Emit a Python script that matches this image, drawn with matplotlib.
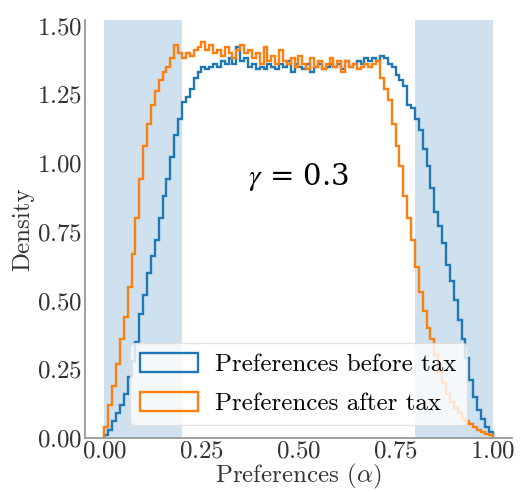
import numpy as np
import matplotlib
matplotlib.use("Agg")
import matplotlib.pyplot as plt

plt.rcParams['font.family'] = 'serif'
plt.rcParams['font.serif'] = ['cmr10']
plt.rcParams['mathtext.fontset'] = 'cm'
plt.rcParams['axes.formatter.use_mathtext'] = True

# histogram bin edges (100 bins on [0, 1])
bin_edges = np.linspace(0.0, 1.0, 101)

before_tax = [
    0.01, 0.03, 0.06, 0.09, 0.12, 0.16, 0.22, 0.28, 0.35, 0.45,
    0.52, 0.60, 0.66, 0.72, 0.80, 0.88, 0.94, 1.02, 1.10, 1.16,
    1.22, 1.24, 1.27, 1.31, 1.33, 1.35, 1.34, 1.35, 1.36, 1.35,
    1.37, 1.36, 1.38, 1.36, 1.42, 1.37, 1.38, 1.35, 1.36, 1.34,
    1.35, 1.34, 1.36, 1.35, 1.34, 1.36, 1.35, 1.37, 1.33, 1.36,
    1.35, 1.34, 1.36, 1.33, 1.35, 1.36, 1.34, 1.35, 1.36, 1.35,
    1.36, 1.34, 1.37, 1.35, 1.36, 1.37, 1.36, 1.38, 1.37, 1.38,
    1.37, 1.39, 1.38, 1.36, 1.35, 1.32, 1.30, 1.28, 1.21, 1.20,
    1.16, 1.12, 1.05, 0.99, 0.91, 0.82, 0.77, 0.71, 0.63, 0.57,
    0.50, 0.43, 0.36, 0.29, 0.21, 0.15, 0.10, 0.07, 0.04, 0.02,
]

after_tax = [
    0.04, 0.12, 0.19, 0.27, 0.36, 0.44, 0.55, 0.67, 0.80, 0.94,
    1.06, 1.14, 1.21, 1.26, 1.30, 1.33, 1.35, 1.38, 1.43, 1.40,
    1.38, 1.40, 1.39, 1.41, 1.42, 1.44, 1.41, 1.43, 1.40, 1.41,
    1.39, 1.42, 1.40, 1.38, 1.41, 1.43, 1.40, 1.41, 1.38, 1.40,
    1.36, 1.42, 1.37, 1.39, 1.36, 1.41, 1.37, 1.36, 1.38, 1.35,
    1.39, 1.36, 1.34, 1.38, 1.35, 1.37, 1.34, 1.36, 1.38, 1.35,
    1.37, 1.33, 1.37, 1.35, 1.36, 1.34, 1.35, 1.36, 1.35, 1.36,
    1.37, 1.31, 1.27, 1.23, 1.14, 1.06, 0.99, 0.88, 0.80, 0.72,
    0.62, 0.53, 0.46, 0.40, 0.36, 0.30, 0.24, 0.20, 0.16, 0.13,
    0.11, 0.09, 0.07, 0.06, 0.05, 0.04, 0.03, 0.02, 0.015, 0.01,
]

labels = ["Preferences before tax", "Preferences after tax"]
colors = ["#1f77b4", "#ff7f0e"]
shaded = [(0.0, 0.2), (0.8, 1.0)]

fig = plt.figure(figsize=(5.21, 4.92), dpi=100)
ax = fig.add_axes([0.1631, 0.1098, 0.8196, 0.8496])

for lo, hi in shaded:
    ax.axvspan(lo, hi, color="#cfe1ee", zorder=0, lw=0)

centers = (bin_edges[:-1] + bin_edges[1:]) / 2
for vals, lab, col in zip([before_tax, after_tax], labels, colors):
    ax.hist(centers, bins=bin_edges, weights=vals, histtype="step",
            color=col, lw=1.7, label=lab, zorder=2)

ax.set_xlim(-0.05, 1.05)
ax.set_ylim(0, 1.52)
ax.set_xticks([0.0, 0.25, 0.5, 0.75, 1.0])
ax.set_yticks([0.0, 0.25, 0.5, 0.75, 1.0, 1.25, 1.5])
ax.tick_params(length=0, pad=2, labelsize=18, colors="#333333")
for s in ["top", "right"]:
    ax.spines[s].set_visible(False)
for s in ["left", "bottom"]:
    ax.spines[s].set_color("#999999")
    ax.spines[s].set_linewidth(1.3)

ax.set_xlabel(r"Preferences ($\alpha$)", fontsize=18, labelpad=-1, color="#333333")
ax.set_ylabel("Density", fontsize=18, labelpad=2, color="#333333")

ax.text(0.5, 0.95, r"$\gamma$ = 0.3", fontsize=21, ha="center", va="center",
        family="DejaVu Serif", math_fontfamily="stix")

leg = ax.legend(loc="lower center", fontsize=18, handlelength=2.3,
                handleheight=0.8, handletextpad=0.7, labelspacing=0.65,
                framealpha=0.8, edgecolor="#dddddd", fancybox=True)
leg.set_zorder(5)

fig.savefig("out.png", dpi=100)
